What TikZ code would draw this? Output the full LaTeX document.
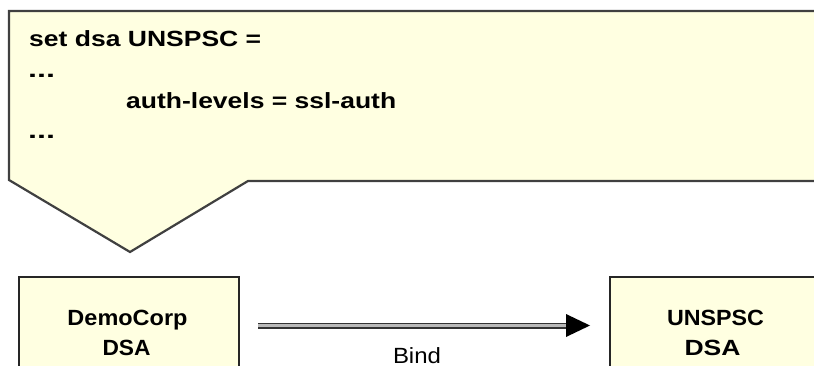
\documentclass[tikz,border=0pt]{standalone}
\usepackage{fontspec}
\setmainfont{Liberation Sans}
\usetikzlibrary{arrows.meta}
\definecolor{notefill}{RGB}{255,255,225}
\definecolor{edgegray}{RGB}{64,64,64}
\newcommand{\sx}[2]{\resizebox{#1pt}{\height}{#2}}
\begin{document}
\begin{tikzpicture}[x=1pt,y=-1pt,
  txt/.style={inner sep=0pt, font=\fontsize{22}{22}\selectfont\bfseries},
  lbl/.style={inner sep=0pt, font=\fontsize{22}{22}\selectfont},
  dsabox/.style={draw=black!85, line width=1.5pt, fill=notefill, minimum width=220pt,
                 minimum height=140pt, anchor=north west, inner sep=0pt},
  bindline/.style={draw=black!80, line width=1.8pt, double=gray!55, double distance=2.4pt},
]
\useasboundingbox (0,0) rectangle (814,366);
\clip (0,0) rectangle (814,366);
% callout
\draw[fill=notefill, draw=edgegray, line width=2.2pt, line join=miter]
  (9,11) -- (840,11) -- (840,181) -- (248,181) -- (130,252) -- (9,180) -- cycle;
\node[txt, anchor=base west] (l1) at (29,47) {\sx{232}{set dsa UNSPSC =}};
\node[txt, anchor=base west] (l2) at (28,78) {\sx{27}{...}};
\node[txt, anchor=base west] (l3) at (126,109) {\sx{270}{auth-levels = ssl-auth}};
\node[txt, anchor=base west] (l4) at (28,139) {\sx{27}{...}};
% boxes
\node[dsabox] (demo) at (18,276) {};
\node[dsabox] (unspsc) at (609,276) {};
\node[txt, anchor=base] (demoa) at (127.5,325.5) {\sx{120}{DemoCorp}};
\node[txt, anchor=base] (demob) at (126.5,355.5) {\sx{48}{DSA}};
\node[txt, anchor=base] (unsa) at (715.5,325.5) {\sx{97}{UNSPSC}};
\node[txt, anchor=base] (unsb) at (712.5,355.5) {\sx{56}{DSA}};
% bind arrow
\coordinate (bindstart) at (258,325.5);
\coordinate (headbase) at (566,325.5);
\coordinate (bindend) at (590,325.5);
\draw[bindline] (bindstart) -- (headbase);
\fill[black] (bindend) -- ([yshift=-11.5pt]headbase) -- ([yshift=11.5pt]headbase) -- cycle;
\node[lbl, anchor=base] (bind) at (417,363) {\sx{48}{Bind}};
\end{tikzpicture}
\end{document}
